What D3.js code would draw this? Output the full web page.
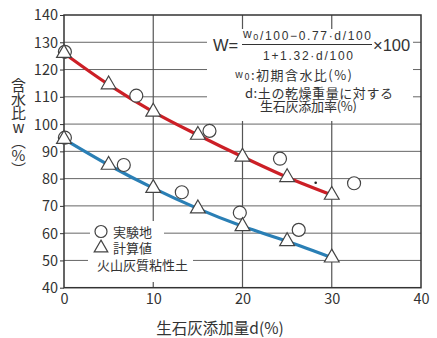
<!DOCTYPE html>
<html>
<head>
<meta charset="utf-8">
<script src="https://cdn.jsdelivr.net/npm/d3@7"></script>
<style>
  body { margin: 0; background: #fff; }
  svg { display: block; }
  text { font-family: "Noto Sans CJK JP", "Noto Sans", sans-serif; fill: #333; }
  .latin { font-family: "Liberation Sans", "Noto Sans CJK JP", sans-serif; }
</style>
</head>
<body>
<svg id="chart" width="437" height="338"></svg>
<script>
// dose of quicklime d (%)
const dose = [0, 5, 10, 15, 20, 25, 30];
// calculated values (triangles + line)
const calcUpper = [126, 114.5, 104.5, 96, 88, 80.5, 74];
const calcLower = [94.5, 85, 76.5, 69, 62.5, 57, 51];
// experimental values (circles)
const expUpperD = [0.1, 8.1, 16.3, 24.2, 32.5];
const expUpperW = [126.5, 110.4, 97.5, 87.3, 78.3];
const expLowerD = [0.1, 6.7, 13.2, 19.7, 26.3];
const expLowerW = [95, 85, 75, 67.5, 61.2];
const strayDot = [28.2, 78.5];

const xTicks = [0, 10, 20, 30, 40];
const yTicks = [40, 50, 60, 70, 80, 90, 100, 110, 120, 130, 140];

const svg = d3.select("#chart");
const x = d3.scaleLinear().domain([0, 40]).range([64, 421]);
const y = d3.scaleLinear().domain([40, 140]).range([287.7, 15]);

//grid
svg.append("g").selectAll("line")
	.data(yTicks.slice(1, -1))
	.enter().append("line")
	.attr("x1", x(0)).attr("x2", x(40))
	.attr("y1", d => y(d)).attr("y2", d => y(d))
	.attr("stroke", "#666").attr("stroke-width", 1);
svg.append("g").selectAll("line")
	.data(xTicks.slice(1, -1))
	.enter().append("line")
	.attr("y1", y(40)).attr("y2", y(140))
	.attr("x1", d => x(d)).attr("x2", d => x(d))
	.attr("stroke", "#555").attr("stroke-width", 1.2);

//white areas behind the formula and the legend
const masks = [[207, 29, 206, 92], [90, 221, 74, 29], [88, 250, 105, 32]];
svg.append("g").selectAll("rect")
	.data(masks)
	.enter().append("rect")
	.attr("x", d => d[0]).attr("y", d => d[1])
	.attr("width", d => d[2]).attr("height", d => d[3])
	.attr("fill", "#fff");

//frame
svg.append("rect")
	.attr("x", x(0)).attr("y", y(140))
	.attr("width", x(40) - x(0)).attr("height", y(40) - y(140))
	.attr("fill", "none").attr("stroke", "#333").attr("stroke-width", 1.5);

//y axis
const yAxis = svg.append("g")
	.attr("transform", "translate(" + x(0) + ",0)")
	.call(d3.axisLeft(y).tickValues(yTicks).tickSize(4).tickPadding(2));
yAxis.select(".domain").remove();
yAxis.selectAll("line").attr("stroke", "#333");
yAxis.selectAll("text").style("font-size", "14.5px").attr("fill", "#333")
	.style("font-family", "'Noto Sans CJK JP', sans-serif").attr("dy", "0.34em");

//x axis
const xAxis = svg.append("g")
	.attr("transform", "translate(0," + y(40) + ")")
	.call(d3.axisBottom(x).tickValues(xTicks).tickSize(0).tickPadding(6));
xAxis.select(".domain").remove();
xAxis.selectAll("text").style("font-size", "14.5px").attr("fill", "#333")
	.style("font-family", "'Noto Sans CJK JP', sans-serif");

//axis titles
svg.append("text")
	.attr("x", 220).attr("y", 333.5)
	.attr("text-anchor", "middle")
	.style("font-size", "15.5px").attr("fill", "#222")
	.text("生石灰添加量d(%)");

svg.append("text")
	.attr("x", 18.5).attr("y", 78)
	.style("writing-mode", "vertical-rl")
	.style("text-orientation", "upright")
	.style("letter-spacing", "-1px")
	.style("font-size", "15px").attr("fill", "#222")
	.text("含水比w︵%︶");

//lines
const line = d3.line()
	.x((d, i) => x(dose[i]))
	.y(d => y(d))
	.curve(d3.curveMonotoneX);
svg.append("path").datum(calcUpper)
	.attr("d", line).attr("fill", "none")
	.attr("stroke", "#cc1f26").attr("stroke-width", 3.2);
svg.append("path").datum(calcLower)
	.attr("d", line).attr("fill", "none")
	.attr("stroke", "#2a7fb5").attr("stroke-width", 3.2);

//circles
const drawCircles = (ds, ws) => {
	svg.append("g").selectAll("circle")
		.data(ds)
		.enter().append("circle")
		.attr("cx", d => x(d))
		.attr("cy", (d, i) => y(ws[i]))
		.attr("r", 6.5)
		.attr("fill", "#fff").attr("stroke", "#444").attr("stroke-width", 1.2);
};
drawCircles(expUpperD, expUpperW);
drawCircles(expLowerD, expLowerW);

//triangles
const tri = d3.symbol().type(d3.symbolTriangle).size(95);
[calcUpper, calcLower].forEach(series => {
	svg.append("g").selectAll("path")
		.data(series)
		.enter().append("path")
		.attr("d", tri)
		.attr("transform", (d, i) => "translate(" + x(dose[i]) + "," + y(d) + ")")
		.attr("fill", "#fff").attr("stroke", "#444").attr("stroke-width", 1.2);
});

svg.append("circle")
	.attr("cx", x(strayDot[0])).attr("cy", y(strayDot[1]))
	.attr("r", 1.3).attr("fill", "#222");

//formula
const f = svg.append("g");
f.append("text").attr("class", "latin").attr("x", 213).attr("y", 51)
	.style("font-size", "16.5px").attr("fill", "#222").text("W=");
f.append("line").attr("x1", 242).attr("x2", 372).attr("y1", 44.5).attr("y2", 44.5)
	.attr("stroke", "#333").attr("stroke-width", 1);
const num = f.append("text").attr("class", "latin").attr("x", 243).attr("y", 40)
	.attr("textLength", 128).attr("lengthAdjust", "spacing")
	.style("font-size", "12px").attr("fill", "#222");
num.append("tspan").attr("dy", "-2").text("w");
num.append("tspan").attr("dy", "2").style("font-size", "9px").text("0");
num.append("tspan").text("/100−0.77·d/100");
f.append("text").attr("class", "latin").attr("x", 263).attr("y", 59.5)
	.attr("textLength", 90).attr("lengthAdjust", "spacing")
	.style("font-size", "12px").attr("fill", "#222")
	.text("1+1.32·d/100");
f.append("text").attr("class", "latin").attr("x", 373).attr("y", 51)
	.style("font-size", "16.5px").attr("fill", "#222").text("×100");

const w0 = f.append("text").attr("x", 235).attr("y", 80)
	.attr("textLength", 117).attr("lengthAdjust", "spacing")
	.style("font-size", "13px").attr("fill", "#222");
w0.append("tspan").attr("dy", "-2").style("font-size", "10px").text("w");
w0.append("tspan").attr("dy", "2").style("font-size", "9px").text("0");
w0.append("tspan").text(":初期含水比(%)");
//d definition, wrapped on two lines
const dDef = f.append("text").style("font-size", "13px").attr("fill", "#222");
dDef.append("tspan").attr("x", 245).attr("y", 98)
	.attr("textLength", 148).attr("lengthAdjust", "spacing")
	.text("d:土の乾燥重量に対する");
dDef.append("tspan").attr("x", 260).attr("y", 111)
	.attr("textLength", 97).attr("lengthAdjust", "spacing")
	.text("生石灰添加率(%)");

//legend
svg.append("circle").attr("cx", 101).attr("cy", 231.5).attr("r", 6)
	.attr("fill", "#fff").attr("stroke", "#444").attr("stroke-width", 1.2);
svg.append("path").attr("d", tri.size(80)())
	.attr("transform", "translate(101,248)")
	.attr("fill", "#fff").attr("stroke", "#444").attr("stroke-width", 1.2);
svg.append("text").attr("x", 113).attr("y", 237)
	.style("font-size", "13px").attr("fill", "#222").text("実験地");
svg.append("text").attr("x", 113).attr("y", 253)
	.style("font-size", "13px").attr("fill", "#222").text("計算値");
svg.append("text").attr("x", 97).attr("y", 270)
	.style("font-size", "13px").attr("fill", "#222").text("火山灰質粘性土");
</script>
</body>
</html>
